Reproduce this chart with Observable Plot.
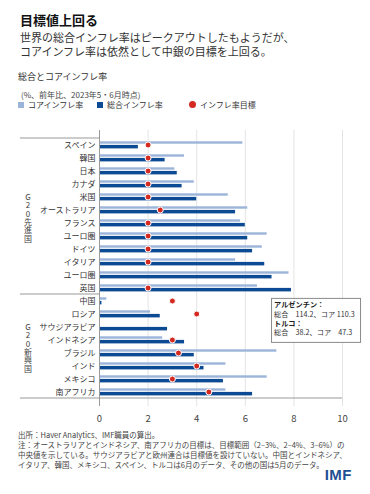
<!DOCTYPE html>
<html>
<head>
<meta charset="utf-8">
<script src="https://cdn.jsdelivr.net/npm/d3@7"></script>
<script src="https://cdn.jsdelivr.net/npm/@observablehq/plot@0.6"></script>
<style>
  html, body { margin: 0; padding: 0; background: #fff; }
  body { width: 370px; height: 494px; position: relative; overflow: hidden;
         font-family: "Noto Sans CJK JP", "Noto Sans", sans-serif; color: #222; }
  .abs { position: absolute; white-space: nowrap; }
  #title { left: 20px; top: 12.5px; font-size: 13px; font-weight: 700; line-height: 1; color: #111; }
  #subtitle { left: 20px; top: 29.5px; font-size: 11px; line-height: 14.5px; color: #333; }
  #ctitle { left: 18px; top: 72px; font-size: 9px; line-height: 1; color: #333; }
  #unit { left: 21px; top: 90.5px; font-size: 8px; line-height: 1; color: #444; }
  .leg { top: 100.5px; font-size: 8px; line-height: 1; color: #333; display: flex; align-items: center; }
  .sw { display: inline-block; width: 6px; height: 6px; margin-right: 4px; }
  .dotsw { display: inline-block; width: 7px; height: 7px; border-radius: 50%; margin-right: 4px; }
  #chart { position: absolute; left: 0; top: 118px; }
  #footer { left: 18px; top: 430px; font-size: 7.5px; line-height: 10px; color: #444; }
  #imf { right: 18px; top: 467px; font-family: "Liberation Sans", Arial, sans-serif; font-size: 15px;
         font-weight: 700; line-height: 1; color: #1f4f93; letter-spacing: 0.5px; }
</style>
</head>
<body>
<div id="title" class="abs">目標値上回る</div>
<div id="subtitle" class="abs">世界の総合インフレ率はピークアウトしたもようだが、<br>コアインフレ率は依然として中銀の目標を上回る。</div>
<div id="ctitle" class="abs">総合とコアインフレ率</div>
<div id="unit" class="abs">(%、前年比、2023年5・6月時点)</div>
<div id="legend"></div>
<div id="chart"></div>
<div id="footer" class="abs">出所：Haver Analytics、IMF職員の算出。<br>注：オーストラリアとインドネシア、南アフリカの目標は、目標範囲（2–3%、2–4%、3–6%）の<br>中央値を示している。サウジアラビアと欧州連合は目標値を設けていない。中国とインドネシア、<br>イタリア、韓国、メキシコ、スペイン、トルコは6月のデータ、その他の国は5月のデータ。</div>
<div id="imf" class="abs">IMF</div>
<script>
// ---- data ----
const countries = ["スペイン","韓国","日本","カナダ","米国","オーストラリア","フランス","ユーロ圏","ドイツ","イタリア","ユーロ圏","英国",
                   "中国","ロシア","サウジアラビア","インドネシア","ブラジル","インド","メキシコ","南アフリカ"];
const groups = ["G20先進国","G20先進国","G20先進国","G20先進国","G20先進国","G20先進国","G20先進国","G20先進国","G20先進国","G20先進国","G20先進国","G20先進国",
                "G20新興国","G20新興国","G20新興国","G20新興国","G20新興国","G20新興国","G20新興国","G20新興国"];
const coreInflation = [5.9, 3.5, 3.1, 3.9, 5.3, 6.1, 5.8, 6.9, 6.7, 5.6, 7.8, 6.5,
                       0.3, 2.1, null, 2.6, 7.3, 5.2, 6.9, 5.2];
const headlineInflation = [1.6, 2.7, 3.2, 3.4, 4.0, 5.6, 6.0, 6.1, 6.3, 6.8, 7.1, 7.9,
                           0.1, 2.5, 2.8, 3.5, 3.9, 4.3, 5.1, 6.3];
const inflationTarget = [2, 2, 2, 2, 2, 2.5, 2, 2, 2, 2, null, 2,
                         3, 4, null, 3, 3.25, 4, 3, 4.5];
const xTicks = [0, 2, 4, 6, 8, 10];
const legendItems = ["コアインフレ率", "総合インフレ率", "インフレ率目標"];
const noteLines = [["アルゼンチン：", "総合　114.2、コア 110.3"], ["トルコ：", "総合　38.2、コア　47.3"]];

const COLORS = { core: "#9cb4da", headline: "#0c4a93", target: "#d52a22" };

(function () {
  // ---- legend ----
  const legend = document.getElementById("legend");
  const legLefts = [18, 97, 189];
  legendItems.forEach((t, i) => {
    const d = document.createElement("div");
    d.className = "abs leg";
    d.style.left = legLefts[i] + "px";
    const sw = document.createElement("span");
    if (i < 2) { sw.className = "sw"; sw.style.background = i === 0 ? COLORS.core : COLORS.headline; }
    else { sw.className = "dotsw"; sw.style.background = COLORS.target; }
    d.appendChild(sw);
    d.appendChild(document.createTextNode(t));
    legend.appendChild(d);
  });

  // ---- chart ----
  const keys = countries.map((c, i) => "k" + String(i).padStart(2, "0"));
  const data = countries.map((c, i) => ({
    key: keys[i], name: c, group: groups[i],
    core: coreInflation[i], headline: headlineInflation[i], target: inflationTarget[i]
  }));
  const nameOf = new Map(data.map(d => [d.key, d.name]));

  const chart = Plot.plot({
    width: 370,
    height: 310,
    marginTop: 12,
    marginBottom: 22,
    marginLeft: 99,
    marginRight: 28,
    style: { fontFamily: '"Noto Sans CJK JP", sans-serif', fontSize: "8px", color: "#333", background: "transparent", overflow: "visible" },
    x: { domain: [0, 10] },
    y: { type: "band", domain: keys, padding: 0 },
    marks: [
      Plot.gridX(xTicks.filter(t => t > 0), { stroke: "#e4e4e4", strokeOpacity: 1 }),
      Plot.barX(data.filter(d => d.core != null), { x: "core", y: "key", fill: COLORS.core, insetTop: 3.3, insetBottom: 7.3 }),
      Plot.barX(data, { x: "headline", y: "key", fill: COLORS.headline, insetTop: 6.9, insetBottom: 2.6 }),
      Plot.dot(data.filter(d => d.target != null), { x: "target", y: "key", r: 3, fill: COLORS.target, stroke: "white", strokeWidth: 1 }),
      Plot.ruleX([0], { stroke: "#999", strokeWidth: 1 }),
      Plot.axisY({ tickSize: 0, tickPadding: 4, tickFormat: k => nameOf.get(k), label: null, fontSize: 8, fill: "#333" }),
      Plot.axisX({ ticks: xTicks, tickSize: 0, tickPadding: 9, label: null, fontSize: 9.5, fill: "#444" })
    ]
  });
  document.getElementById("chart").appendChild(chart);

  // ---- decorations derived from scales ----
  const xs = chart.scale("x"), ys = chart.scale("y");
  const bw = ys.bandwidth;
  const yTop = ys.apply(keys[0]);
  const yBottom = ys.apply(keys[keys.length - 1]) + bw;
  const svg = d3.select(chart);
  const leftEdge = 20;
  const x0 = xs.apply(0), xMax = xs.apply(10);
  const deco = svg.append("g").attr("stroke", "#999").attr("stroke-width", 1);
  deco.append("line").attr("x1", leftEdge).attr("x2", x0).attr("y1", yTop).attr("y2", yTop);
  deco.append("line").attr("x1", leftEdge).attr("x2", xMax).attr("y1", yBottom).attr("y2", yBottom);
  const groupNames = Array.from(new Set(groups));
  groupNames.forEach((g, gi) => {
    const idx = groups.map((v, i) => v === g ? i : -1).filter(i => i >= 0);
    const gTop = ys.apply(keys[idx[0]]);
    const gBot = ys.apply(keys[idx[idx.length - 1]]) + bw;
    if (gi > 0) deco.append("line").attr("x1", leftEdge).attr("x2", x0).attr("y1", gTop).attr("y2", gTop);
    const mid = (gTop + gBot) / 2 + 2;
    svg.append("text")
      .attr("x", 28).attr("y", mid)
      .attr("font-size", 8).attr("fill", "#444")
      .attr("text-anchor", "middle")
      .style("writing-mode", "vertical-rl")
      .style("text-orientation", "upright")
      .style("letter-spacing", "0.4px")
      .text(g);
  });
  // annotation box (Argentina / Turkey)
  const bx = xs.apply(7.1);
  const by = ys.apply(keys[12]) + 4.4;
  const box = svg.append("g").attr("text-anchor", "start");
  box.append("rect").attr("x", bx).attr("y", by).attr("width", 89).attr("height", 44)
    .attr("fill", "white").attr("stroke", "#8a8a8a").attr("stroke-width", 1);
  const tg = box.append("g").attr("font-size", 7.2).attr("fill", "#333");
  let yy = by + 8.5;
  noteLines.forEach(([head, body]) => {
    tg.append("text").attr("x", bx + 2.5).attr("y", yy).attr("font-weight", 700).attr("fill", "#222").text(head);
    yy += 9.6;
    tg.append("text").attr("x", bx + 2.5).attr("y", yy).text(body);
    yy += 9.2;
  });
})();
</script>
</body>
</html>
